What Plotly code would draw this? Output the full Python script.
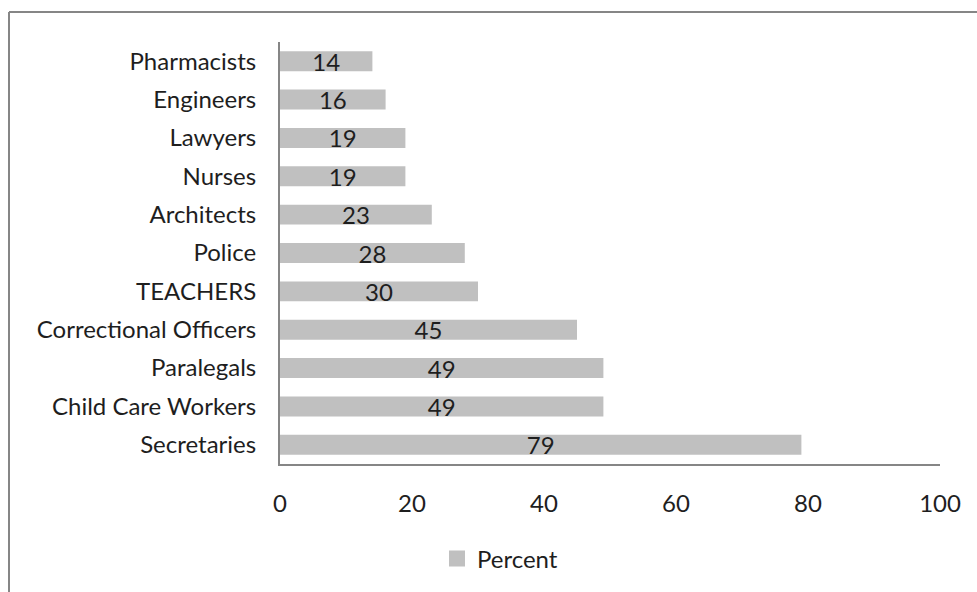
import plotly.graph_objects as go

categories = ["Secretaries", "Child Care Workers", "Paralegals", "Correctional Officers",
              "TEACHERS", "Police", "Architects", "Nurses", "Lawyers", "Engineers", "Pharmacists"]
percent = [79, 49, 49, 45, 30, 28, 23, 19, 19, 16, 14]
x_ticks = [0, 20, 40, 60, 80, 100]
series_name = "Percent"

FONT = "Lato"
FS = 24
TEXT = "#1e1e1e"
AXIS = "#868686"
BAR = "#c0c0c0"

fig = go.Figure()
fig.add_trace(
    go.Bar(
        y=categories,
        x=percent,
        orientation="h",
        name=series_name,
        marker=dict(color=BAR, line=dict(width=0)),
        text=[str(v) for v in percent],
        textposition="inside",
        insidetextanchor="middle",
        textangle=0,
        textfont=dict(family=FONT, size=FS, color=TEXT),
        showlegend=False,
    )
)
# legend entry with a larger square swatch
fig.add_trace(
    go.Scatter(
        x=[None], y=[None], mode="markers", name=series_name,
        marker=dict(symbol="square", size=17, color=BAR),
        showlegend=True, hoverinfo="skip",
    )
)

W, H = 977, 592
L, R, T, B = 280, 37, 42, 127
pw, ph = W - L - R, H - T - B

def px_x(p):
    return (p - L) / pw

def px_y(p):
    return (H - B - p) / ph

# outer chart frame (left and top edges)
fig.add_shape(type="line", xref="paper", yref="paper",
              x0=px_x(9), x1=px_x(9), y0=px_y(12), y1=px_y(620),
              line=dict(color=AXIS, width=2))
fig.add_shape(type="line", xref="paper", yref="paper",
              x0=px_x(9), x1=px_x(1000), y0=px_y(12), y1=px_y(12),
              line=dict(color=AXIS, width=2))

fig.update_layout(
    width=W, height=H,
    margin=dict(l=L, r=R, t=T, b=B),
    paper_bgcolor="white",
    plot_bgcolor="white",
    bargap=0.48,
    font=dict(family=FONT, size=FS, color=TEXT),
    uniformtext=dict(mode="show", minsize=FS),
    xaxis=dict(
        range=[0, 100], tickvals=x_ticks, ticktext=[str(v) for v in x_ticks],
        showgrid=False, zeroline=False,
        showline=True, linecolor=AXIS, linewidth=2,
        ticks="", ticklabelstandoff=17,
        tickfont=dict(family=FONT, size=FS, color=TEXT),
        fixedrange=True,
    ),
    yaxis=dict(
        categoryorder="array", categoryarray=categories,
        showgrid=False, zeroline=False,
        showline=True, linecolor=AXIS, linewidth=2,
        ticks="", ticklabelstandoff=17,
        tickfont=dict(family=FONT, size=FS, color=TEXT),
        fixedrange=True,
    ),
    legend=dict(
        orientation="h", x=px_x(437), xanchor="left",
        y=px_y(559), yanchor="middle",
        font=dict(family=FONT, size=FS, color=TEXT),
        bgcolor="rgba(0,0,0,0)",
    ),
)

fig.write_html("out.html")
